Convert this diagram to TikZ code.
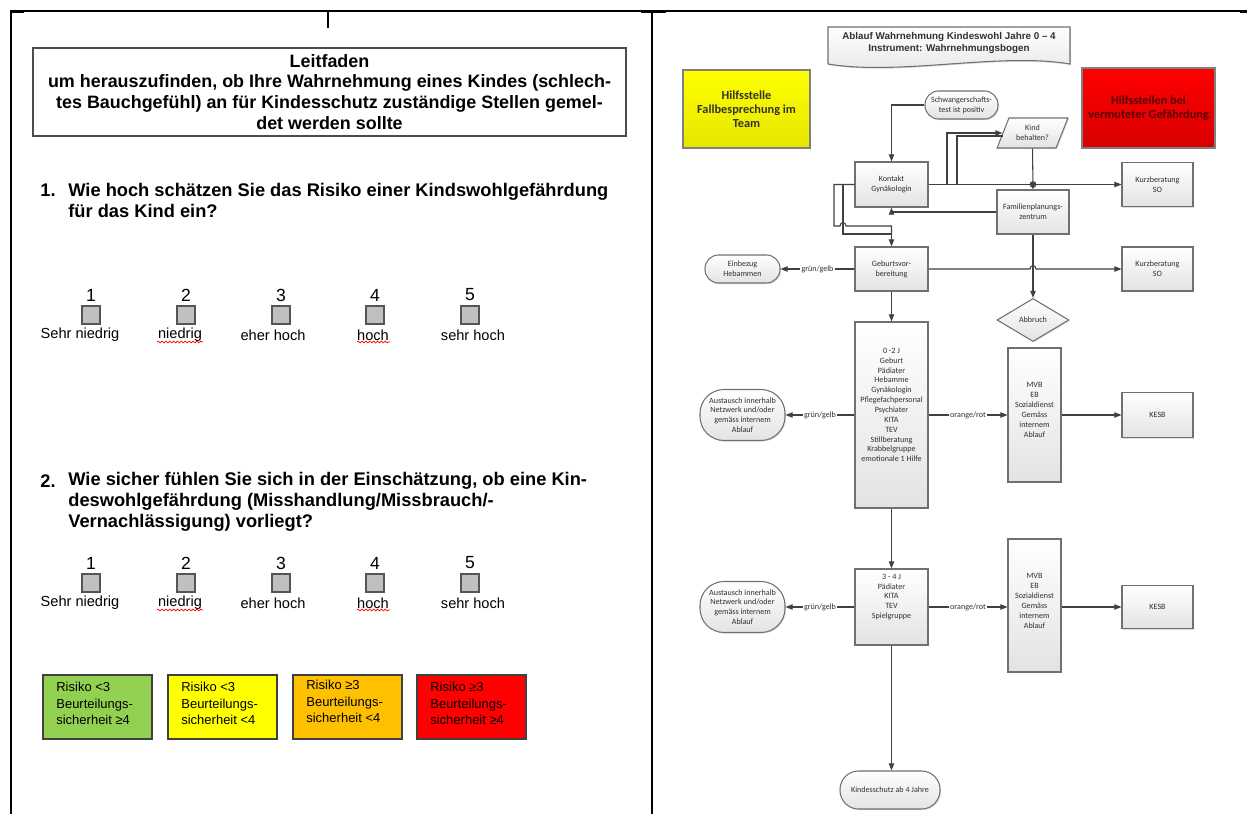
\documentclass[tikz,border=0pt]{standalone}
\usepackage{fontspec}
\setmainfont{Liberation Sans}
\newfontfamily\calfont{Carlito}
\usetikzlibrary{shapes.geometric,arrows.meta,decorations.pathmorphing,shadows}
\def\pxu{0.02cm}
\definecolor{lineC}{HTML}{404040}
\definecolor{txtC}{HTML}{303030}
\definecolor{boxB}{HTML}{707070}
\definecolor{chkF}{HTML}{C0C0C0}
\definecolor{chkD}{HTML}{555555}
\definecolor{grn}{HTML}{92D050}
\definecolor{ylw}{HTML}{FFFF00}
\definecolor{ylwD}{HTML}{E6E600}
\definecolor{org}{HTML}{FFC000}
\definecolor{rd}{HTML}{FF0000}
\definecolor{rdD}{HTML}{D80000}
\definecolor{maroon}{HTML}{5A0000}
\tikzset{
  conn/.style={draw=lineC, line width=0.6pt},
  arr/.style={conn, -{Triangle[length=4pt,width=3pt]}},
  fc/.style={font=\calfont\fontsize{4.6}{5.6}\selectfont, text=txtC, align=center},
  fbox/.style={fc, draw=boxB, line width=0.6pt, top color=white, bottom color=gray!22, inner sep=1pt,
    drop shadow={shadow xshift=0.6pt, shadow yshift=-0.6pt, opacity=0.25}},
  ftxt/.style={fc, inner sep=0pt},
  lab/.style={fc, fill=white, inner sep=0.6pt},
  chk/.style={draw=chkD, fill=chkF, line width=1.2pt, minimum size=18*\pxu, inner sep=0pt},
  numf/.style={font=\fontsize{10}{11}\selectfont, inner sep=0pt},
  labf/.style={font=\fontsize{8.3}{10}\selectfont, inner sep=0pt},
  qf/.style={font=\bfseries\fontsize{10.4}{11.9}\selectfont, inner sep=0pt},
  rbox/.style={draw=black!75, line width=0.7pt, minimum width=109*\pxu, minimum height=64*\pxu, inner sep=0pt},
  rtxt/.style={font=\fontsize{7.4}{9.4}\selectfont, align=left, inner sep=0pt, anchor=west},
  wavy/.style={draw=red, line width=0.4pt, decorate, decoration={snake, amplitude=0.5pt, segment length=2.2pt}},
  hbox/.style={draw=gray, line width=0.7pt, font=\calfont\bfseries\fontsize{7}{8}\selectfont, align=center,
    drop shadow={shadow xshift=0.7pt, shadow yshift=-0.7pt, opacity=0.3}}
}
\begin{document}
\begin{tikzpicture}[x=0.02cm,y=-0.02cm]
\useasboundingbox (0,0) rectangle (1247,814);
\fill[white] (0,0) rectangle (1247,814);
% page frame
\draw[line width=0.8pt] (10,11) -- (1247,11);
\draw[line width=1.6pt] (10,11.5) -- (24,11.5);
\draw[line width=1.6pt] (641,11.5) -- (666,11.5);
\draw[line width=1.6pt] (1240,11.5) -- (1247,11.5);
\draw[line width=1.4pt] (11,11) -- (11,814);
\draw[line width=1.4pt] (652,11) -- (652,814);
\draw[line width=0.8pt] (328,11) -- (328,28);

% ---------------- left panel
\node[draw=black!70, line width=1pt, minimum width=593*\pxu, minimum height=88*\pxu, align=center,
  font=\bfseries\fontsize{10.2}{11.9}\selectfont, inner sep=0pt] (lt) at (329.5,92)
  {Leitfaden\\um herauszufinden, ob Ihre Wahrnehmung eines Kindes (schlech-\\tes Bauchgefühl) an für Kindesschutz zuständige Stellen gemel-\\det werden sollte};

\node[qf, anchor=west] (q1n) at (40,190) {1.};
\node[qf, anchor=west, align=left] (q1) at (68,200.5) {Wie hoch schätzen Sie das Risiko einer Kindswohlgefährdung\\für das Kind ein?};

\node[qf, anchor=west] (q2n) at (40,481) {2.};
\node[qf, anchor=west, align=left] (q2) at (68,502) {Wie sicher fühlen Sie sich in der Einschätzung, ob eine Kin-\\deswohlgefährdung (Misshandlung/Missbrauch/-\\Vernachlässigung) vorliegt?};

\foreach \r/\yy in {a/0,b/268}{
  \foreach \x/\n in {91/1,186/2,281/3,375/4,470/5}{
    \node[numf] (n\r\n) at (\x,295+\yy) {\n};
    \node[chk] (c\r\n) at (\x,315+\yy) {};
  }
  \node[labf] (l\r1) at (80,335+\yy) {Sehr niedrig};
  \node[labf] (l\r2) at (180,335+\yy) {niedrig};
  \node[labf] (l\r3) at (273,335+\yy) {eher hoch};
  \node[labf] (l\r4) at (373,335+\yy) {hoch};
  \node[labf] (l\r5) at (473,335+\yy) {sehr hoch};
  \draw[wavy] (157,342+\yy) -- (203,342+\yy);
  \draw[wavy] (357,342+\yy) -- (390,342+\yy);
}

\node[rbox, fill=grn] (r1) at (97.5,707) {};
\node[rtxt] (r1t) at (56,703.5) {Risiko <3\\Beurteilungs-\\sicherheit ≥4};
\node[rbox, fill=ylw] (r2) at (222.5,707) {};
\node[rtxt] (r2t) at (181,703.5) {Risiko <3\\Beurteilungs-\\sicherheit <4};
\node[rbox, fill=org] (r3) at (347.5,707) {};
\node[rtxt] (r3t) at (306,701.5) {Risiko ≥3\\Beurteilungs-\\sicherheit <4};
\node[rbox, fill=rd] (r4) at (471.5,707) {};
\node[rtxt] (r4t) at (430,703.5) {Risiko ≥3\\Beurteilungs-\\sicherheit ≥4};

% ---------------- right panel
\path[draw=boxB, line width=0.6pt, top color=white, bottom color=gray!20,
  drop shadow={shadow xshift=0.7pt, shadow yshift=-0.7pt, opacity=0.3}]
  (828,27) -- (1070,27) -- (1070,64) .. controls (1000,52) and (900,76) .. (828,64) -- cycle;
\node[font=\bfseries\fontsize{5.6}{6.4}\selectfont, align=center, text=txtC, inner sep=0pt] (ttl) at (949,43)
  {Ablauf Wahrnehmung Kindeswohl Jahre 0 – 4\\Instrument: Wahrnehmungsbogen};

\node[hbox, top color=ylw, bottom color=ylwD, text=black!80, minimum width=127*\pxu, minimum height=78*\pxu] (hy) at (746.5,109)
  {Hilfsstelle\\Fallbesprechung im\\Team};
\node[hbox, top color=rd, bottom color=rdD, text=maroon, minimum width=133*\pxu, minimum height=80*\pxu] (hr) at (1148.5,108)
  {Hilfsstellen bei\\vermuteter Gefährdung};

\node[fbox, minimum width=73*\pxu, minimum height=28*\pxu, rounded corners=0.27cm] (sch) at (961.5,105) {Schwangerschafts-\\test ist positiv};
\node[fbox, trapezium, trapezium left angle=62, trapezium right angle=118, trapezium stretches=true,
  minimum width=71*\pxu, minimum height=30*\pxu, inner sep=0pt] (kb) at (1032.5,133) {Kind\\behalten?};
\node[fbox, minimum width=73*\pxu, minimum height=45*\pxu] (kg) at (891.5,184.5) {Kontakt\\Gynäkologin};
\node[fbox, minimum width=72*\pxu, minimum height=44*\pxu] (fp) at (1033,212) {Familienplanungs-\\zentrum};
\node[fbox, minimum width=71*\pxu, minimum height=44*\pxu] (k1) at (1157.5,184.5) {Kurzberatung\\SO};
\node[fbox, minimum width=73*\pxu, minimum height=44*\pxu] (gb) at (891.5,269) {Geburtsvor-\\bereitung};
\node[fbox, minimum width=71*\pxu, minimum height=44*\pxu] (k2) at (1157.5,269) {Kurzberatung\\SO};
\node[fbox, minimum width=75*\pxu, minimum height=28*\pxu, rounded corners=0.27cm] (eh) at (742.5,269) {Einbezug\\Hebammen};
\node[fbox, diamond, aspect=1.67, minimum width=72*\pxu, minimum height=43*\pxu, inner sep=0pt] (ab) at (1033,320) {Abbruch};

\node[fbox, minimum width=73*\pxu, minimum height=186*\pxu] (j02) at (891.5,415) {};
\node[ftxt] (j02t) at (891.5,405) {0 -2 J\\Geburt\\Pädiater\\Hebamme\\Gynäkologin\\Pflegefachpersonal\\Psychiater\\KITA\\TEV\\Stillberatung\\Krabbelgruppe\\emotionale 1 Hilfe};
\node[fbox, minimum width=85*\pxu, minimum height=51*\pxu, rounded corners=0.48cm] (au1) at (742.5,415) {Austausch innerhalb\\Netzwerk und/oder\\gemäss internem\\Ablauf};
\node[fbox, minimum width=53*\pxu, minimum height=134*\pxu] (m1) at (1034.5,415) {};
\node[ftxt] (m1t) at (1034.5,410) {MVB\\EB\\Sozialdienst\\Gemäss\\internem\\Ablauf};
\node[fbox, minimum width=71*\pxu, minimum height=45*\pxu] (ke1) at (1157.5,415) {KESB};

\node[fbox, minimum width=73*\pxu, minimum height=76*\pxu] (j34) at (891.5,607) {};
\node[ftxt] (j34t) at (891.5,597) {3 - 4 J\\Pädiater\\KITA\\TEV\\Spielgruppe};
\node[fbox, minimum width=85*\pxu, minimum height=51*\pxu, rounded corners=0.48cm] (au2) at (742.5,607) {Austausch innerhalb\\Netzwerk und/oder\\gemäss internem\\Ablauf};
\node[fbox, minimum width=53*\pxu, minimum height=133*\pxu] (m2) at (1034.5,605.5) {};
\node[ftxt] (m2t) at (1034.5,601) {MVB\\EB\\Sozialdienst\\Gemäss\\internem\\Ablauf};
\node[fbox, minimum width=71*\pxu, minimum height=43*\pxu] (ke2) at (1157.5,607) {KESB};

\node[fbox, minimum width=100*\pxu, minimum height=38*\pxu, rounded corners=0.37cm] (ks) at (890,790) {Kindesschutz ab 4 Jahre};

% connectors
\draw[arr] (sch.west) -| (kg.north);
\draw[arr] (kg.east) -- (kg.east -| k1.west);
\draw[arr] (kg.east) -- (947,184.5) |- (kb.west);
\draw[conn] (957,184.5) -- (957,136) -- (1003,136);
\draw[arr] (kb.south) -- (fp.north);
\draw[conn] (1033,184.5) circle[radius=0.055cm];
\draw[arr] (fp.west) -| (kg.south);
\draw[conn] (kg.west) -- (834,184.5) -- (834,226) -- (840,226) .. controls (840,221.5) and (846,221.5) .. (846,226) -- (891.5,226) -- (891.5,234);
\draw[arr] (843,184.5) -- (843,234) -- (891.5,234) -- (gb.north);
\draw[arr] (gb.east) -- (1030,269) .. controls (1030,264.5) and (1036,264.5) .. (1036,269) -- (k2.west);
\draw[arr] (fp.south) -- (ab.north);
\draw[arr] (gb.west) -- node[lab] {grün/gelb} (eh.east);
\draw[arr] (gb.south) -- (j02.north);
\draw[arr] (j02.west) -- node[lab] {grün/gelb} (au1.east);
\draw[arr] (j02.east) -- node[lab] {orange/rot} (m1.west);
\draw[arr] (m1.east) -- (ke1.west);
\draw[arr] (j02.south) -- (j34.north);
\draw[arr] (j34.west) -- node[lab] {grün/gelb} (au2.east);
\draw[arr] (j34.east) -- node[lab] {orange/rot} (j34.east -| m2.west);
\draw[arr] (j34.east -| m2.east) -- (ke2.west);
\draw[arr] (j34.south) -- (j34.south |- ks.north);
\end{tikzpicture}
\end{document}
